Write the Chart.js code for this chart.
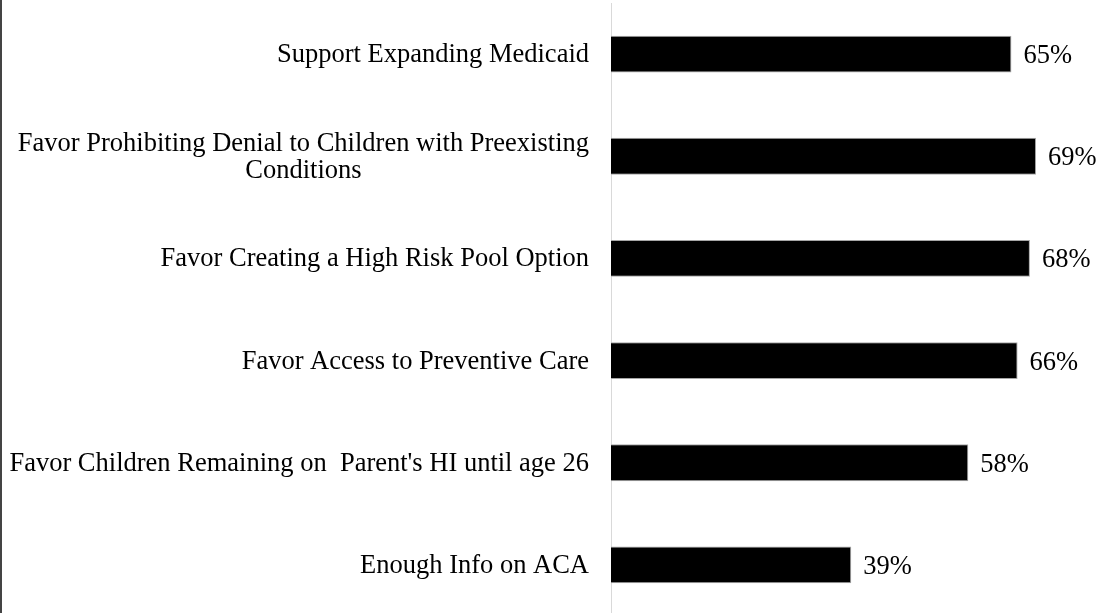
<!DOCTYPE html>
<html>
<head>
<meta charset="utf-8">
<script src="https://cdn.jsdelivr.net/npm/chart.js@4"></script>
<style>
  body { margin: 0; background: #fff; }
  #wrap { position: relative; width: 1102px; height: 613px; overflow: hidden; }
  #wrap canvas { position: absolute; left: 0; top: 0; }
</style>
</head>
<body>
<div id="wrap"><canvas id="chart" width="1102" height="616"></canvas></div>
<script>
var labels = [
  "Support Expanding Medicaid",
  ["Favor Prohibiting Denial to Children with Preexisting", "Conditions"],
  "Favor Creating a High Risk Pool Option",
  "Favor Access to Preventive Care",
  "Favor Children Remaining on  Parent's HI until age 26",
  "Enough Info on ACA"
];
var values = [65, 69, 68, 66, 58, 39];

var FONT = "26.5px 'Liberation Serif', 'Times New Roman', serif";

// category labels on the left, lines centred inside a right-aligned block
const sideLabels = {
  id: "sideLabels",
  afterDraw(chart) {
    const ctx = chart.ctx;
    const y = chart.scales.y;
    const meta = chart.getDatasetMeta(0);
    ctx.save();
    ctx.font = FONT;
    ctx.fillStyle = "#000";
    ctx.textBaseline = "middle";
    labels.forEach((lab, i) => {
      const lines = Array.isArray(lab) ? lab : [lab];
      const cy = y.getPixelForValue(i) + 1;
      const right = chart.chartArea.left - 22;
      let w = 0;
      lines.forEach(l => { w = Math.max(w, ctx.measureText(l).width); });
      const lh = 27;
      const top = cy - (lines.length - 1) * lh / 2;
      ctx.textAlign = "center";
      lines.forEach((l, k) => {
        ctx.fillText(l, right - w / 2, top + k * lh);
      });
      // value label
      const bar = meta.data[i];
      ctx.textAlign = "left";
      ctx.fillText(values[i] + "%", bar.x + 12, bar.y + 2);
    });
    // left frame line
    ctx.fillStyle = "#444";
    ctx.fillRect(0, 0, 2, chart.height);
    ctx.restore();
  }
};

Chart.defaults.animation = false;

new Chart("chart", {
  type: "bar",
  data: {
    labels: labels,
    datasets: [{
      data: values,
      backgroundColor: "#000",
      borderColor: "#a6a6a6",
      borderWidth: 1,
      categoryPercentage: 1,
      barPercentage: 0.36
    }]
  },
  options: {
    indexAxis: "y",
    responsive: false,
    layout: { padding: { top: 3, left: 0, right: 0, bottom: 0 } },
    plugins: {
      legend: { display: false },
      tooltip: { enabled: false }
    },
    scales: {
      x: {
        display: false,
        min: 0,
        max: 79.7
      },
      y: {
        ticks: { display: false },
        grid: { display: false, drawTicks: false },
        border: { display: true, color: "#d9d9d9", width: 1 },
        afterFit(scale) { scale.width = 611; }
      }
    }
  },
  plugins: [sideLabels]
});
</script>
</body>
</html>
